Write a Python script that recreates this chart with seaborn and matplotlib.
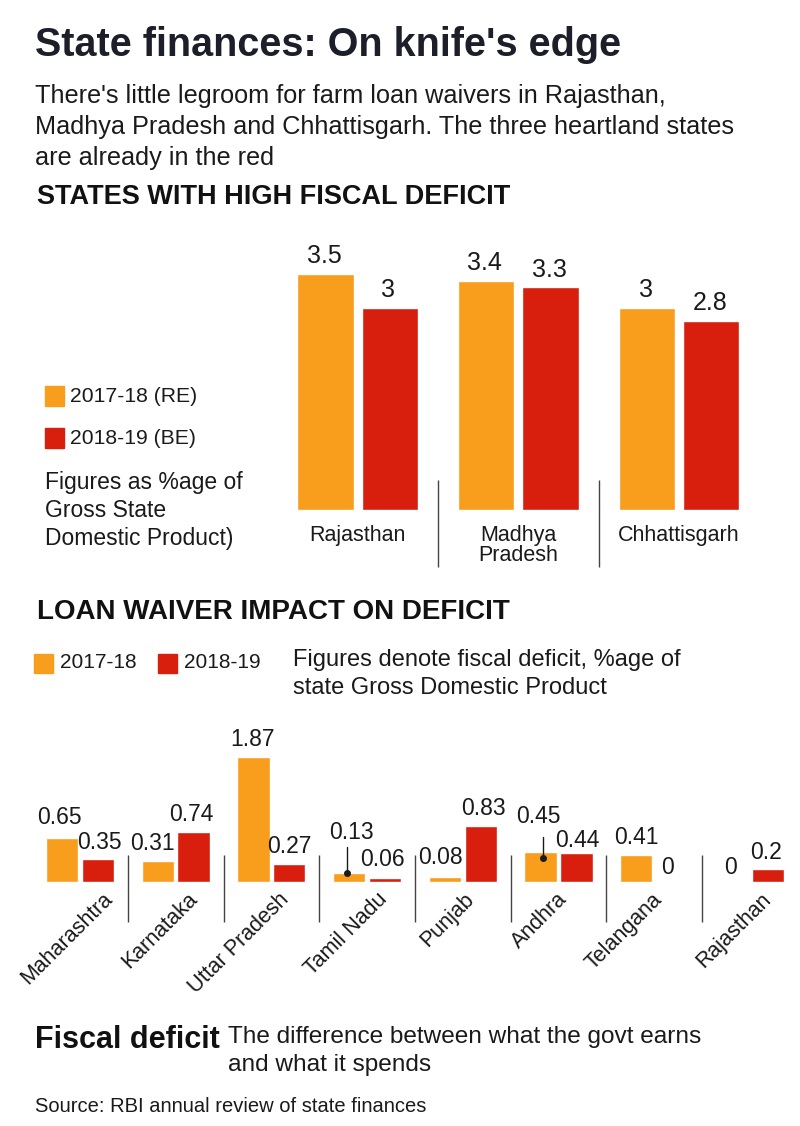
import seaborn as sns
import matplotlib.pyplot as plt
import matplotlib.transforms as mtransforms
import pandas as pd
import numpy as np

# data
top_states = ['Rajasthan', 'Madhya\nPradesh', 'Chhattisgarh']
top_re = [3.5, 3.4, 3.0]
top_be = [3.0, 3.3, 2.8]
top_labels_re = ['3.5', '3.4', '3']
top_labels_be = ['3', '3.3', '2.8']

low_states = ['Maharashtra', 'Karnataka', 'Uttar Pradesh', 'Tamil Nadu',
              'Punjab', 'Andhra', 'Telangana', 'Rajasthan']
low_1718 = [0.65, 0.31, 1.87, 0.13, 0.08, 0.45, 0.41, 0.0]
low_1819 = [0.35, 0.74, 0.27, 0.06, 0.83, 0.44, 0.0, 0.2]
low_labels_1718 = ['0.65', '0.31', '1.87', '0.13', '0.08', '0.45', '0.41', '0']
low_labels_1819 = ['0.35', '0.74', '0.27', '0.06', '0.83', '0.44', '0', '0.2']

ORANGE = '#F99D1C'
RED = '#D81E0D'
INK = '#1a1a1a'

sns.set_theme(style='white')
plt.rcParams['font.family'] = ['Liberation Sans', 'DejaVu Sans']

W, H = 800, 1126
fig = plt.figure(figsize=(8, 11.26), dpi=100)


def px(x, y):
    return x / W, 1 - y / H


def ftext(x, y, s, **kw):
    kw.setdefault('color', INK)
    kw.setdefault('va', 'center')
    fig.text(*px(x, y), s, **kw)


# header
ftext(35, 45, "State finances: On knife's edge", fontsize=28.5, fontweight='bold', color='#1c1f2a')
for i, line in enumerate(["There's little legroom for farm loan waivers in Rajasthan,",
                          "Madhya Pradesh and Chhattisgarh. The three heartland states",
                          "are already in the red"]):
    ftext(35, 96 + 31 * i, line, fontsize=18.2)
ftext(37, 197, 'STATES WITH HIGH FISCAL DEFICIT', fontsize=19.5, fontweight='bold', color='#111111')

# top chart
df_top = pd.DataFrame({
    'state': top_states * 2,
    'value': top_re + top_be,
    'year': ['2017-18 (RE)'] * 3 + ['2018-19 (BE)'] * 3,
})
ax1 = fig.add_axes([290 / W, 1 - 510 / H, 455 / W, 270 / H])
sns.barplot(data=df_top, x='state', y='value', hue='year', palette=[ORANGE, RED],
            width=0.8, gap=0.125, ax=ax1, legend=False, errorbar=None, saturation=1)
ax1.set_xlim(-0.42, 2.41)
ax1.set_ylim(0, 4.0)
for labels, cont in zip([top_labels_re, top_labels_be], ax1.containers):
    for lab, bar in zip(labels, cont):
        ax1.annotate(lab, (bar.get_x() + bar.get_width() / 2, bar.get_height()),
                     xytext=(-1, 4), textcoords='offset points', ha='center', va='bottom',
                     fontsize=18, color=INK)
ax1.set_xticks([])
ax1.set_yticks([])
ax1.set_xlabel('')
ax1.set_ylabel('')
for i, name in enumerate(top_states):
    ax1.text(i, -0.22, name, ha='center', va='top', fontsize=15.5, color=INK, linespacing=0.95)
ax1.vlines([0.5, 1.5], -0.85, 0.45, color='#444444', lw=1, clip_on=False)
sns.despine(ax=ax1, left=True, bottom=True)

# top legend
for y, c, s in [(396, ORANGE, '2017-18 (RE)'), (438, RED, '2018-19 (BE)')]:
    fig.patches.append(plt.Rectangle(px(45, y + 10), 19 / W, 20 / H, color=c,
                                     transform=fig.transFigure, figure=fig))
    ftext(70, y, s, fontsize=15.2)
for i, line in enumerate(['Figures as %age of', 'Gross State', 'Domestic Product)']):
    ftext(45, 483 + 27.5 * i, line, fontsize=16.5)

# bottom section header
ftext(37, 612, 'LOAN WAIVER IMPACT ON DEFICIT', fontsize=20, fontweight='bold', color='#111111')
for x, c, s in [(34, ORANGE, '2017-18'), (158, RED, '2018-19')]:
    fig.patches.append(plt.Rectangle(px(x, 673), 19 / W, 19 / H, color=c,
                                     transform=fig.transFigure, figure=fig))
    ftext(x + 26, 663, s, fontsize=15)
ftext(293, 660, 'Figures denote fiscal deficit, %age of', fontsize=17)
ftext(293, 688, 'state Gross Domestic Product', fontsize=17)

# bottom chart
df_low = pd.DataFrame({
    'state': low_states * 2,
    'value': low_1718 + low_1819,
    'year': ['2017-18'] * 8 + ['2018-19'] * 8,
})
ax2 = fig.add_axes([35 / W, 1 - 882 / H, 755 / W, 182 / H])
sns.barplot(data=df_low, x='state', y='value', hue='year', palette=[ORANGE, RED],
            width=0.75, gap=0.1, ax=ax2, legend=False, errorbar=None, saturation=1)
ax2.set_xlim(-0.47, 7.42)
ax2.set_ylim(0, 182 / 67)
ax2.set_xlabel('')
ax2.set_ylabel('')
ax2.set_yticks([])
ax2.tick_params(axis='x', length=0, pad=2)
ax2.set_xticks(range(len(low_states)))
ax2.set_xticklabels(low_states, rotation=45, ha='right', rotation_mode='anchor',
                    fontsize=15.5, color=INK)
shifts = [22, 11, 7, 10, 1, -2, -3, 11]
for lab, dx in zip(ax2.get_xticklabels(), shifts):
    lab.set_transform(lab.get_transform() + mtransforms.ScaledTranslation(dx / 100, -4 / 100, fig.dpi_scale_trans))

# value labels, offsets in px (dx, dy of text centre relative to bar top centre)
off_1718 = [(-3, -21), (-5, -18), (-1, -17), (2, -41), (-4, -19), (-2, -35), (0, -17), (-1, -14)]
off_1819 = [(2, -16), (-2, -18), (0, -17), (-3, -18), (3, -18), (1, -12), (-5, -14), (-2, -16)]
for labels, offs, cont in zip([low_labels_1718, low_labels_1819], [off_1718, off_1819], ax2.containers):
    for lab, (dx, dy), bar in zip(labels, offs, cont):
        ax2.annotate(lab, (bar.get_x() + bar.get_width() / 2, bar.get_height()),
                     xytext=(dx * 0.72, -dy * 0.72), textcoords='offset points',
                     ha='center', va='center', fontsize=16.5, color=INK)
# pointer lines for tiny bars
for idx, dx, y_top, y_dot in [(3, -0.02, 0.52, 0.13), (5, 0.03, 0.67, 0.36)]:
    bar = ax2.containers[0][idx]
    cx = bar.get_x() + bar.get_width() / 2 + dx
    ax2.plot([cx, cx], [y_top, y_dot], color=INK, lw=1, clip_on=False)
    ax2.plot([cx], [y_dot], 'o', color=INK, ms=4, clip_on=False)
ax2.vlines(np.arange(0.5, 7.5), -0.6, 0.4, color='#444444', lw=1, clip_on=False)
sns.despine(ax=ax2, left=True, bottom=True)

# footer
ftext(35, 1040, 'Fiscal deficit', fontsize=22, fontweight='bold', color='#111111')
ftext(228, 1037, 'The difference between what the govt earns', fontsize=17.6)
ftext(228, 1065, 'and what it spends', fontsize=17.6)
ftext(35, 1107, 'Source: RBI annual review of state finances', fontsize=14.5)

fig.savefig('out.png', dpi=100)
